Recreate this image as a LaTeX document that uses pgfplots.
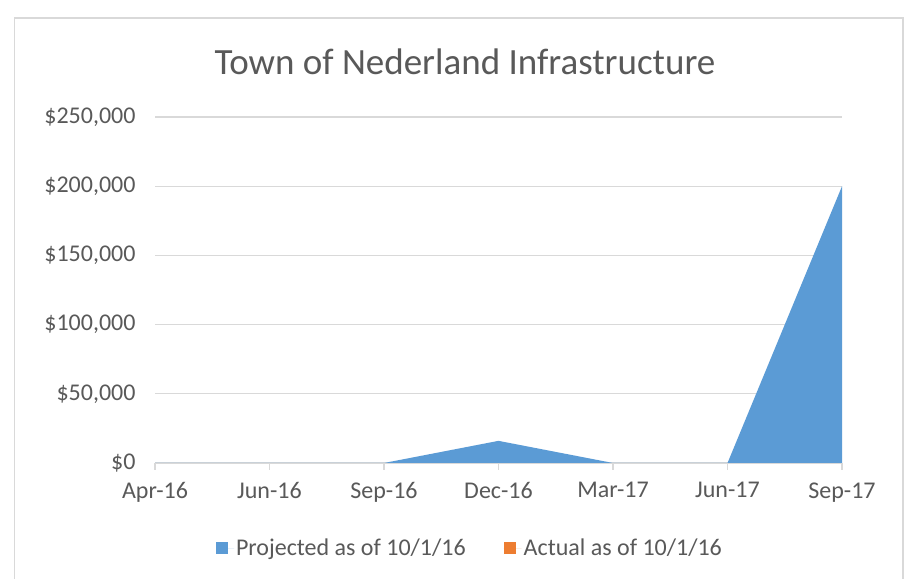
\documentclass[border=0pt]{standalone}
\usepackage{pgfplots}
\pgfplotsset{compat=1.18}
\usepackage{fontspec}
\setmainfont{Carlito}
\definecolor{txt}{HTML}{595959}
\definecolor{gridc}{HTML}{D9D9D9}
\definecolor{blu}{HTML}{5B9BD5}
\definecolor{ora}{HTML}{ED7D31}
\begin{document}
\begin{tikzpicture}[x=1bp,y=1bp]
\useasboundingbox (0,0) rectangle (908,579);
\fill[white] (0,0) rectangle (908,579);
\draw[gridc, line width=1.5bp] (14.5,-10) rectangle (903,561);
\node[anchor=base, text=txt, inner sep=0pt, font=\fontsize{37bp}{44bp}\selectfont] at (465,504) {Town of Nederland Infrastructure};
\begin{axis}[
  at={(155bp,116bp)}, anchor=south west,
  scale only axis, width=687bp, height=346bp,
  xmin=0, xmax=6, ymin=0, ymax=250000,
  axis x line*=bottom, axis y line*=left,
  x axis line style={draw=gridc, line width=1.2bp, -},
  y axis line style={draw=none},
  xtick={0,1,2,3,4,5,6},
  xticklabels={Apr-16,Jun-16,Sep-16,Dec-16,Mar-17,Jun-17,Sep-17},
  xtick style={draw=gridc, line width=1.2bp},
  ytick style={draw=none},
  tick align=outside, major tick length=7bp,
  ytick={0,50000,100000,150000,200000,250000},
  ymajorgrids, grid style={draw=gridc, line width=1.2bp},
  scaled y ticks=false,
  /pgf/number format/assume math mode=true,
  yticklabel={\$\pgfmathprintnumber[fixed,1000 sep={,}]{\tick}},
  ticklabel style={text=txt, font=\fontsize{24bp}{28bp}\selectfont},
  xticklabel style={yshift=-9bp},
  yticklabel style={xshift=-9bp},
  legend columns=2,
  legend style={at={(0.4585,-0.2457)}, anchor=center, draw=none, fill=none,
    font=\fontsize{24bp}{28bp}\selectfont, text=txt,
    /tikz/every even column/.append style={column sep=36bp}},
  legend image code/.code={\fill[#1] (0bp,-6bp) rectangle (12bp,6bp); \path (0bp,0bp) -- (18bp,0bp);},
]
\addplot[fill=blu, draw=none] coordinates {
(0,0) (1,0) (2,0) (3,16000) (4,0) (5,0) (6,200000)
} \closedcycle;
\addlegendentry{Projected as of 10/1/16}
\addlegendimage{fill=ora, draw=none}
\addlegendentry{Actual as of 10/1/16}
\end{axis}
\end{tikzpicture}
\end{document}
